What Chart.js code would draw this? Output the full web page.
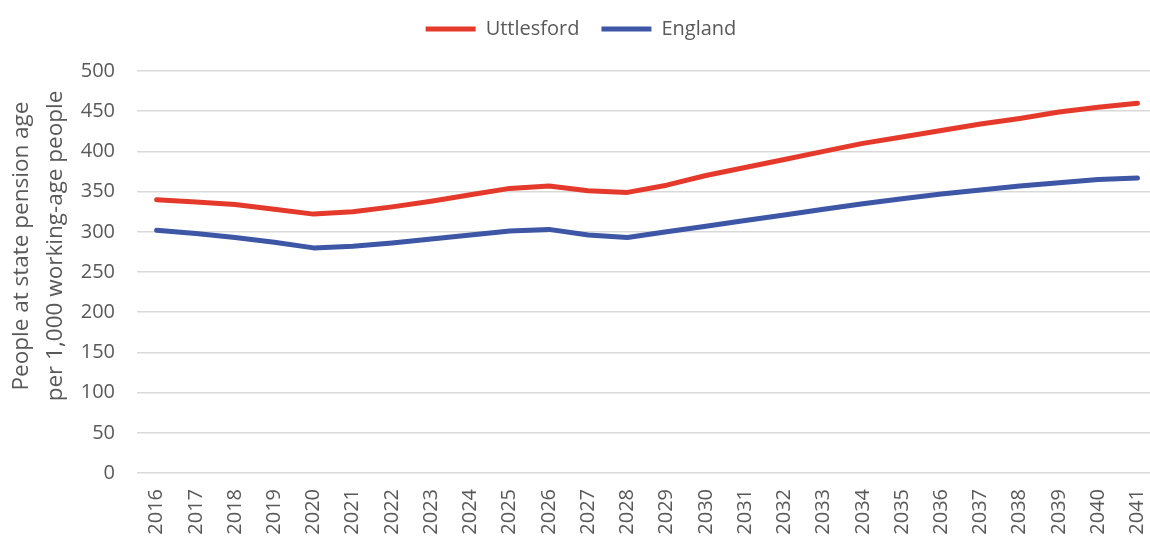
<!DOCTYPE html>
<html>
<head>
<meta charset="utf-8">
<script src="https://cdn.jsdelivr.net/npm/chart.js@4.4.1/dist/chart.umd.min.js"></script>
<style>
  html, body { margin: 0; padding: 0; background: #fff; }
  #wrap { width: 1150px; height: 540px; position: relative; }
</style>
</head>
<body>
<div id="wrap"><canvas id="chart"></canvas></div>
<script>
const years = [2016, 2017, 2018, 2019, 2020, 2021, 2022, 2023, 2024, 2025, 2026, 2027, 2028,
               2029, 2030, 2031, 2032, 2033, 2034, 2035, 2036, 2037, 2038, 2039, 2040, 2041];
const uttlesford = [340, 337, 334, 328, 322, 325, 331, 338, 346, 354, 357, 351, 349,
                    358, 370, 380, 390, 400, 410, 418, 426, 434, 441, 449, 455, 460];
const england = [302, 298, 293, 287, 280, 282, 286, 291, 296, 301, 303, 296, 293,
                 300, 307, 314, 321, 328, 335, 341, 347, 352, 357, 361, 365, 367];
const yTicks = [0, 50, 100, 150, 200, 250, 300, 350, 400, 450, 500];
const yTitle = ['People at state pension age', 'per 1,000 working-age people'];

const FONT = '"Open Sans", "Noto Sans", sans-serif';
const GREY = '#595959';

// legend sits a bit higher/right of where Chart.js centres it
const legendShift = {
    id: 'legendShift',
    afterLayout(chart) {
        const lg = chart.legend;
        lg.top -= 22; lg.bottom -= 22;
        lg.left += 6; lg.right += 6;
    }
};

// two-line y title, centred a little above the plot centre like the original
const yTitlePlugin = {
    id: 'yTitle',
    afterDraw(chart) {
        const ctx = chart.ctx;
        ctx.save();
        ctx.fillStyle = GREY;
        ctx.font = '22.5px ' + FONT;
        ctx.textAlign = 'center';
        ctx.textBaseline = 'middle';
        [22, 56].forEach((x, i) => {
            ctx.save();
            ctx.translate(x, 246);
            ctx.rotate(-Math.PI / 2);
            ctx.fillText(yTitle[i], 0, 0);
            ctx.restore();
        });
        ctx.restore();
    }
};

const pts = arr => years.map((yr, i) => ({ x: yr, y: arr[i] }));

new Chart(document.getElementById('chart'), {
    type: 'line',
    data: {
        datasets: [
            {
                label: 'Uttlesford',
                data: pts(uttlesford),
                borderColor: '#E53A2B',
                backgroundColor: '#E53A2B',
                borderWidth: 5,
                borderCapStyle: 'round',
                borderJoinStyle: 'round',
                pointRadius: 0,
                tension: 0
            },
            {
                label: 'England',
                data: pts(england),
                borderColor: '#3D56A6',
                backgroundColor: '#3D56A6',
                borderWidth: 5,
                borderCapStyle: 'round',
                borderJoinStyle: 'round',
                pointRadius: 0,
                tension: 0
            }
        ]
    },
    options: {
        responsive: true,
        maintainAspectRatio: false,
        animation: false,
        layout: { padding: { top: 19, left: 0, right: 0, bottom: 0 } },
        plugins: {
            legend: {
                position: 'top',
                labels: {
                    usePointStyle: true,
                    pointStyle: 'line',
                    pointStyleWidth: 50,
                    padding: 22,
                    color: GREY,
                    font: { family: FONT, size: 20 }
                }
            },
            tooltip: { enabled: false }
        },
        scales: {
            x: {
                type: 'linear',
                min: 2015.5,
                max: 2041.32,
                afterBuildTicks: axis => { axis.ticks = years.map(v => ({ value: v })); },
                afterFit: axis => {
                    axis.height = 67;
                    axis.paddingLeft = 0;
                    axis.paddingRight = 0;
                },
                grid: { display: false, drawTicks: false },
                border: { display: false },
                ticks: {
                    color: GREY,
                    font: { family: FONT, size: 20 },
                    minRotation: 90,
                    maxRotation: 90,
                    padding: 16,
                    autoSkip: false,
                    callback: v => String(v)
                }
            },
            y: {
                min: 0,
                max: 500,
                afterBuildTicks: axis => { axis.ticks = yTicks.map(v => ({ value: v })); },
                afterFit: axis => { axis.width = 137; },
                grid: { color: '#d9d9d9', lineWidth: 1.5, drawTicks: false },
                border: { display: false },
                ticks: {
                    color: GREY,
                    font: { family: FONT, size: 20 },
                    padding: 22
                }
            }
        }
    },
    plugins: [legendShift, yTitlePlugin]
});
</script>
</body>
</html>
